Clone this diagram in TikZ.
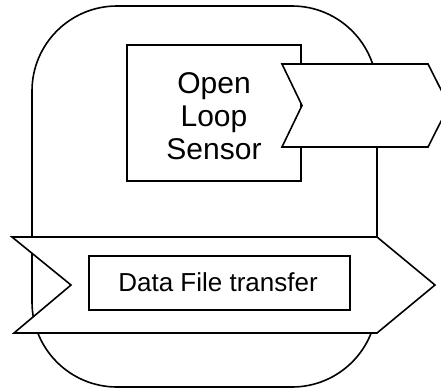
\documentclass[tikz,border=0pt]{standalone}
\usepackage{fontspec}
\setmainfont{Liberation Sans}
\begin{document}
\begin{tikzpicture}[x=1pt,y=-1pt,
  outl/.style={draw=black,line width=1.6pt,line join=miter},
  boxw/.style={outl,fill=white,inner sep=0pt}]
\useasboundingbox (0,0) rectangle (441,391);
\clip (0,0) rectangle (441,391);
% container
\draw[outl,rounded corners=85pt] (32,6) rectangle (377,387);
% sensor box
\node[boxw,minimum width=174pt,minimum height=136pt] (sensor) at (214,113) {};
\node[align=center,inner sep=0pt,font=\fontsize{30}{33}\selectfont] (sensortext) at (214,116) {Open\\Loop\\Sensor};
% output chevron
\draw[outl,fill=white] (282,64) coordinate (c1) -- (428,64) -- (449,105.5) coordinate (ctip)
  -- (428,147) -- (282,147) -- (302,105.5) -- cycle;
% bottom banner
\draw[outl,fill=white] (12,237) -- (377,237) -- (435,285) coordinate (btip)
  -- (377,333) -- (14,333) -- (71,285) -- cycle;
\node[boxw,minimum width=261pt,minimum height=54pt] (data) at (219.5,283) {};
\node[inner sep=0pt,font=\fontsize{26}{30}\selectfont] (datatext) at (218,282) {Data File transfer};
\end{tikzpicture}
\end{document}
